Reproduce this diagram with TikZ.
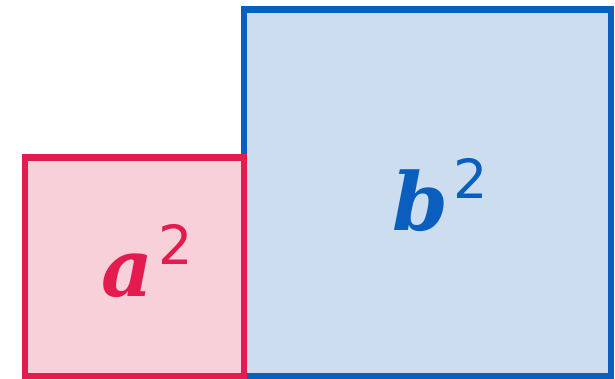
\documentclass[tikz,border=0pt]{standalone}
\usepackage{fontspec}
\newfontfamily\sqfont{DejaVu Serif}
\newfontfamily\expfont{DejaVu Sans}
\definecolor{ared}{HTML}{E31B4F}
\definecolor{afill}{HTML}{F8D0DA}
\definecolor{bblue}{HTML}{0A5EBD}
\definecolor{bfill}{HTML}{CCDDF0}
\newcommand{\sqlabel}[1]{{\sqfont\bfseries\itshape\fontsize{80}{90}\selectfont #1}\kern5pt\raisebox{32pt}{\expfont\fontsize{54}{60}\selectfont 2}}
\begin{document}
\begin{tikzpicture}[x=1pt, y=-1pt,
    asq/.style={draw=ared, fill=afill, line width=6.5pt},
    bsq/.style={draw=bblue, fill=bfill, line width=6.5pt},
    lbl/.style={inner sep=0pt, anchor=base west}]
  \useasboundingbox (0,0) rectangle (615,379);
  % Square b^2
  \draw[bsq] (244, 9.5) rectangle (611, 376.5);
  % Square a^2, drawn over the shared edge
  \draw[asq] (25, 157.5) rectangle (244, 376.5);
  % Labels
  \node[lbl, text=ared] (alabel) at (101, 296) {\sqlabel{a}};
  \node[lbl, text=bblue] (blabel) at (392, 230) {\sqlabel{b}};
\end{tikzpicture}
\end{document}
